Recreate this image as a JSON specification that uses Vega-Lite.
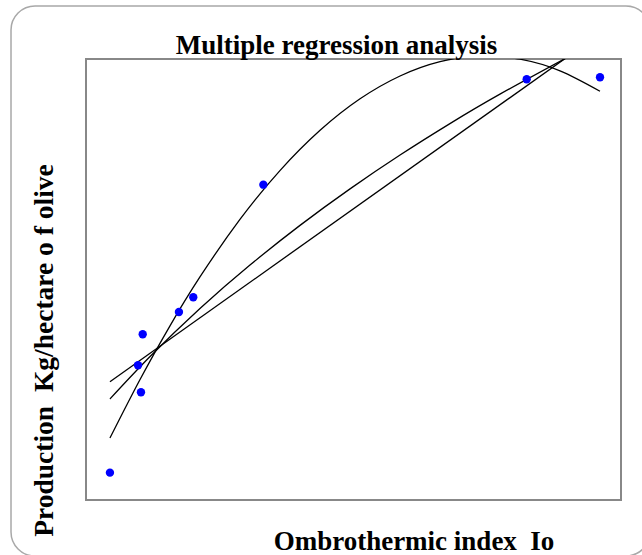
{
  "$schema": "https://vega.github.io/schema/vega-lite/v6.json",
  "width": 535,
  "height": 441,
  "autosize": {"type": "none"},
  "padding": {"left": 86, "top": 59, "right": 21, "bottom": 55},
  "background": "white",
  "config": {"view": {"stroke": "#888888", "strokeWidth": 2}},
  "title": {
    "text": "Multiple regression analysis",
    "font": "Liberation Serif",
    "fontSize": 27,
    "fontWeight": "bold",
    "color": "black",
    "anchor": "middle",
    "frame": "group",
    "dx": -17,
    "offset": -76,
    "baseline": "alphabetic"
  },
  "datasets": {
    "pts": [
      {"Io": 1.179, "P": 248},
      {"Io": 1.389, "P": 1222},
      {"Io": 1.411, "P": 977},
      {"Io": 1.424, "P": 1503},
      {"Io": 1.695, "P": 1705},
      {"Io": 1.802, "P": 1839},
      {"Io": 2.326, "P": 2860},
      {"Io": 4.295, "P": 3816},
      {"Io": 4.843, "P": 3834}
    ],
    "quad": [
      {"Io": 1.179, "P": 562},
      {"Io": 1.404, "P": 1093},
      {"Io": 1.628, "P": 1580},
      {"Io": 1.852, "P": 2023},
      {"Io": 2.151, "P": 2545},
      {"Io": 2.450, "P": 2988},
      {"Io": 2.750, "P": 3353},
      {"Io": 3.049, "P": 3639},
      {"Io": 3.348, "P": 3846},
      {"Io": 3.647, "P": 3976},
      {"Io": 3.946, "P": 4026},
      {"Io": 4.245, "P": 3998},
      {"Io": 4.544, "P": 3892},
      {"Io": 4.843, "P": 3707}
    ],
    "lin": [
      {"Io": 1.179, "P": 1073},
      {"Io": 4.604, "P": 4023}
    ],
    "logc": [
      {"Io": 1.179, "P": 916},
      {"Io": 1.479, "P": 1301},
      {"Io": 1.852, "P": 1737},
      {"Io": 2.226, "P": 2131},
      {"Io": 2.600, "P": 2491},
      {"Io": 2.974, "P": 2822},
      {"Io": 3.348, "P": 3129},
      {"Io": 3.721, "P": 3414},
      {"Io": 4.095, "P": 3681},
      {"Io": 4.604, "P": 4018}
    ]
  },
  "layer": [
    {
      "data": {"values": [{"k": 1}]},
      "mark": {"type": "rect", "fill": "white", "fillOpacity": 0, "stroke": "#a8a8a8", "strokeWidth": 1.5, "cornerRadius": 24, "clip": false},
      "encoding": {
        "x": {"datum": 0.4393, "type": "quantitative", "scale": {"domain": [1, 5], "nice": false, "zero": false}},
        "x2": {"datum": 5.2168},
        "y": {"datum": 4481, "type": "quantitative", "scale": {"domain": [0, 4000], "nice": false, "zero": false}},
        "y2": {"datum": -508}
      }
    },
    {
      "data": {"name": "quad"},
      "mark": {"type": "line", "color": "black", "strokeWidth": 1.3, "clip": true, "interpolate": "natural"},
      "encoding": {
        "x": {
          "field": "Io",
          "type": "quantitative",
          "axis": {
            "title": "Ombrothermic index \u00a0Io",
            "labels": false,
            "ticks": false,
            "domain": false,
            "grid": false,
            "titleFont": "Liberation Serif",
            "titleFontSize": 27,
            "titleFontWeight": "bold",
            "titleColor": "black",
            "titleX": 327.5,
            "titleY": 49,
            "titleAlign": "center",
            "titleBaseline": "alphabetic"
          }
        },
        "y": {
          "field": "P",
          "type": "quantitative",
          "axis": {
            "title": "Production \u00a0Kg/hectare o f olive",
            "labels": false,
            "ticks": false,
            "domain": false,
            "grid": false,
            "titleFont": "Liberation Serif",
            "titleFontSize": 27.5,
            "titleFontWeight": "bold",
            "titleColor": "black",
            "titleAngle": 270,
            "titleX": -34,
            "titleY": 291,
            "titleAlign": "center",
            "titleBaseline": "alphabetic"
          }
        }
      }
    },
    {
      "data": {"name": "lin"},
      "mark": {"type": "line", "color": "black", "strokeWidth": 1.3, "clip": true},
      "encoding": {
        "x": {"field": "Io", "type": "quantitative"},
        "y": {"field": "P", "type": "quantitative"}
      }
    },
    {
      "data": {"name": "logc"},
      "mark": {"type": "line", "color": "black", "strokeWidth": 1.3, "clip": true, "interpolate": "natural"},
      "encoding": {
        "x": {"field": "Io", "type": "quantitative"},
        "y": {"field": "P", "type": "quantitative"}
      }
    },
    {
      "data": {"name": "pts"},
      "mark": {"type": "point", "filled": true, "color": "#0000ff", "opacity": 1, "size": 70, "shape": "circle"},
      "encoding": {
        "x": {"field": "Io", "type": "quantitative"},
        "y": {"field": "P", "type": "quantitative"}
      }
    }
  ]
}
